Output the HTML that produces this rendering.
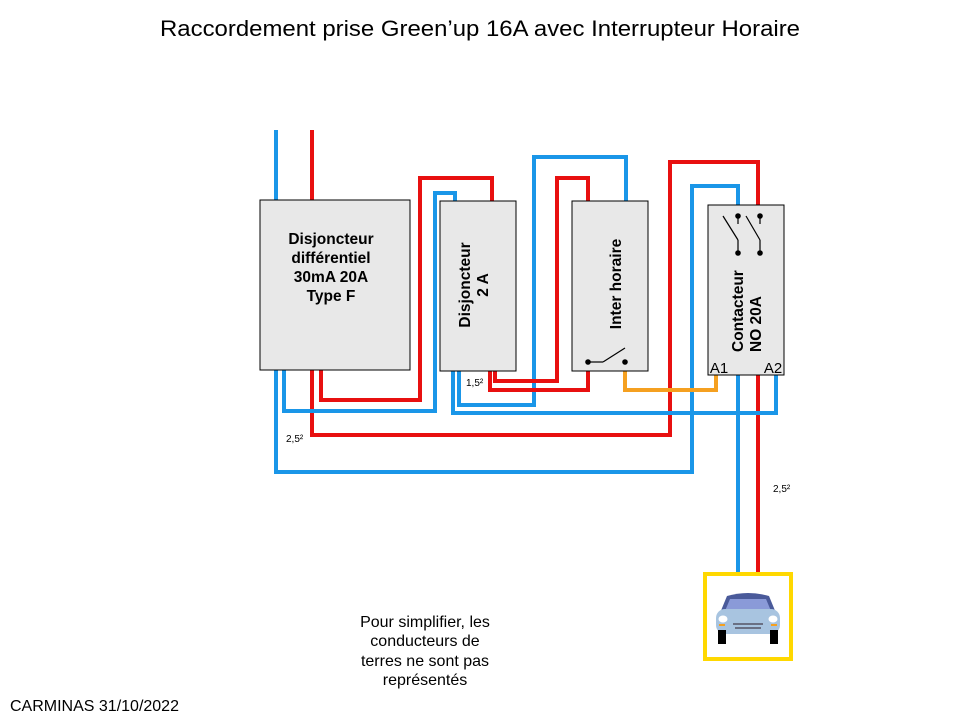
<!DOCTYPE html>
<html><head><meta charset="utf-8"><style>
html,body{margin:0;padding:0;background:#fff}
svg{display:block}
text{font-family:"Liberation Sans",Arial,sans-serif}
</style></head><body>
<svg width="960" height="720" viewBox="0 0 960 720" xmlns="http://www.w3.org/2000/svg">
<text x="480" y="36" font-size="22" text-anchor="middle" textLength="640" lengthAdjust="spacingAndGlyphs">Raccordement prise Green’up 16A avec Interrupteur Horaire</text>
<g fill="none" stroke-width="4" stroke-linejoin="miter">
<polyline stroke="#1a96e8" points="276,130 276,472 692,472 692,186 738,186 738,205"/>
<polyline stroke="#1a96e8" points="738,375 738,572"/>
<polyline stroke="#e81010" points="312,130 312,435 670,435 670,162 758,162 758,205"/>
<polyline stroke="#e81010" points="758,375 758,572"/>
<polyline stroke="#1a96e8" points="284,370 284,411 435,411 435,193 455,193 455,201"/>
<polyline stroke="#e81010" points="321,370 321,400 420,400 420,178 492,178 492,201"/>
<polyline stroke="#1a96e8" points="459,371 459,405 534,405 534,157 626,157 626,201"/>
<polyline stroke="#1a96e8" points="453,371 453,413 776,413 776,375"/>
<polyline stroke="#e81010" points="495,371 495,381 557,381 557,178 588,178 588,201"/>
<polyline stroke="#e81010" points="490,371 490,390 588,390 588,371"/>
<polyline stroke="#f5a020" points="625,371 625,390 716,390 716,375"/>
</g>
<g stroke="#000" stroke-width="1" fill="#e8e8e8">
<rect x="260" y="200" width="150" height="170"/>
<rect x="440" y="201" width="76" height="170"/>
<rect x="572" y="201" width="76" height="170"/>
<rect x="708" y="205" width="76" height="170"/>
</g>
<g font-weight="bold" font-size="15.5" text-anchor="middle">
<text x="331" y="244">Disjoncteur</text>
<text x="331" y="263">différentiel</text>
<text x="331" y="282">30mA 20A</text>
<text x="331" y="301">Type F</text>
<text transform="translate(470,285) rotate(-90)">Disjoncteur</text>
<text transform="translate(488,285) rotate(-90)">2 A</text>
<text transform="translate(621,284) rotate(-90)">Inter horaire</text>
</g>
<g font-weight="bold" font-size="15.5" text-anchor="start">
<text transform="translate(743,352) rotate(-90)">Contacteur</text>
<text transform="translate(761,352) rotate(-90)">NO  20A</text>
</g>
<text x="719" y="373" font-size="15" text-anchor="middle">A1</text>
<text x="773" y="373" font-size="15" text-anchor="middle">A2</text>
<g stroke="#000" stroke-width="1.2" fill="#000">
<circle cx="588" cy="362" r="2.2"/><circle cx="625" cy="362" r="2.2"/>
<line x1="588" y1="362" x2="603" y2="362"/><line x1="603" y1="362" x2="625" y2="348"/>
<circle cx="738" cy="216" r="2.2"/><circle cx="738" cy="253" r="2.2"/>
<circle cx="760" cy="216" r="2.2"/><circle cx="760" cy="253" r="2.2"/>
<line x1="738" y1="216" x2="738" y2="224"/><line x1="723" y1="216" x2="738" y2="240"/><line x1="738" y1="240" x2="738" y2="253"/>
<line x1="760" y1="216" x2="760" y2="224"/><line x1="746" y1="216" x2="760" y2="240"/><line x1="760" y1="240" x2="760" y2="253"/>
</g>
<text x="466" y="386" font-size="10">1,5²</text>
<text x="286" y="442" font-size="10">2,5²</text>
<text x="773" y="492" font-size="10">2,5²</text>
<rect x="705" y="574" width="86" height="85" fill="#fff" stroke="#ffd800" stroke-width="4"/>
<g>
<path d="M727,596 Q748,590 769,596 L776,613 L720,613 Z" fill="#4a5a9a"/>
<path d="M730,599 L766,599 L771,611 L725,611 Z" fill="#8a9ad8"/>
<rect x="716" y="609" width="64" height="25" rx="9" fill="#a8c4e0"/>
<rect x="718" y="630" width="8" height="14" fill="#000"/>
<rect x="770" y="630" width="8" height="14" fill="#000"/>
<ellipse cx="723" cy="619" rx="4.5" ry="3.5" fill="#fff"/>
<ellipse cx="773" cy="619" rx="4.5" ry="3.5" fill="#fff"/>
<line x1="733" y1="624" x2="763" y2="624" stroke="#556" stroke-width="1.5"/>
<line x1="735" y1="628" x2="761" y2="628" stroke="#556" stroke-width="1.5"/>
<rect x="719" y="624" width="6" height="2" fill="#f5a020"/><rect x="771" y="624" width="6" height="2" fill="#f5a020"/>
</g>
<g font-size="16" text-anchor="middle">
<text x="425" y="627">Pour simplifier, les</text>
<text x="425" y="646">conducteurs  de</text>
<text x="425" y="666">terres ne sont pas</text>
<text x="425" y="685">représentés</text>
</g>
<text x="10" y="711" font-size="16">CARMINAS 31/10/2022</text>
</svg>
</body></html>
